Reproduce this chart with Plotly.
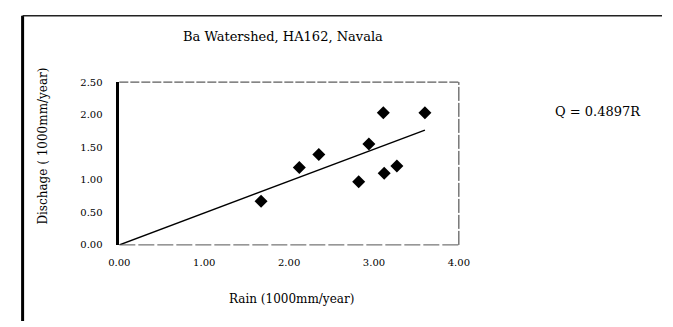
import plotly.graph_objects as go

# Data
rain = [1.67, 2.12, 2.35, 2.82, 2.94, 3.11, 3.12, 3.27, 3.60]
discharge = [0.67, 1.19, 1.39, 0.97, 1.55, 2.03, 1.10, 1.21, 2.03]
slope = 0.4897
x_ticks = [0, 1, 2, 3, 4]
y_ticks = [0, 0.5, 1.0, 1.5, 2.0, 2.5]

title_text = "Ba Watershed, HA162, Navala"
x_title = "Rain (1000mm/year)"
y_title = "Dischage ( 1000mm/year)"
eq_text = "Q = 0.4897R"

W, H = 673, 327
FONT = "DejaVu Serif, Liberation Serif, serif"

def px(x):
    return x / W

def py(y):
    return 1 - y / H

trend_x = [0, max(rain)]
trend_y = [slope * v for v in trend_x]

fig = go.Figure()
fig.add_trace(go.Scatter(x=trend_x, y=trend_y, mode="lines",
                         line=dict(color="black", width=1.5),
                         showlegend=False, hoverinfo="skip"))
fig.add_trace(go.Scatter(x=rain, y=discharge, mode="markers",
                         marker=dict(symbol="diamond", size=10, color="black"),
                         showlegend=False))

fig.update_layout(
    width=W, height=H,
    margin=dict(l=0, r=0, t=0, b=0),
    paper_bgcolor="white", plot_bgcolor="white",
    font=dict(family=FONT, color="black"),
    xaxis=dict(domain=[px(112), px(463)], range=[0, 4], tickvals=x_ticks,
               tickformat=".2f", showgrid=False, zeroline=False,
               showline=False, ticks="", tickfont=dict(size=10, family=FONT),
               ticklabelstandoff=10, fixedrange=True),
    yaxis=dict(domain=[py(248), py(79)], range=[0, 2.5], tickvals=y_ticks,
               tickformat=".2f", showgrid=False, zeroline=False,
               showline=True, linecolor="black", linewidth=2.5, ticks="",
               tickfont=dict(size=10, family=FONT),
               ticklabelstandoff=12, fixedrange=True),
)

shapes = []
# plot area dashed borders (top, right, bottom)
shapes.append(dict(type="line", xref="x domain", yref="y domain", x0=0, x1=1, y0=1, y1=1,
                   line=dict(color="#333", width=1, dash="9px,2px")))
shapes.append(dict(type="line", xref="x domain", yref="y domain", x0=1, x1=1, y0=0, y1=1,
                   line=dict(color="#333", width=1, dash="14px,2px")))
shapes.append(dict(type="line", xref="x domain", yref="y domain", x0=0, x1=1, y0=0, y1=0,
                   line=dict(color="#555", width=1, dash="16px,3px")))
# outer frame: thick left line and top line
shapes.append(dict(type="line", xref="paper", yref="paper", x0=px(12), x1=px(12), y0=0, y1=py(10),
                   line=dict(color="black", width=3)))
shapes.append(dict(type="line", xref="paper", yref="paper", x0=px(12), x1=1, y0=py(10), y1=py(10),
                   line=dict(color="#222", width=1.5)))
fig.update_layout(shapes=shapes)

ann = [
    dict(text=title_text, x=px(281), y=py(32), xref="paper", yref="paper",
         showarrow=False, font=dict(size=13, family=FONT), xanchor="center", yanchor="middle"),
    dict(text=x_title, x=px(290), y=py(304), xref="paper", yref="paper",
         showarrow=False, font=dict(size=12, family=FONT), xanchor="center", yanchor="middle"),
    dict(text=y_title, x=px(33), y=py(145), xref="paper", yref="paper", textangle=-90,
         showarrow=False, font=dict(size=12, family=FONT), xanchor="center", yanchor="middle"),
    dict(text=eq_text, x=px(607), y=py(110), xref="paper", yref="paper",
         showarrow=False, font=dict(size=13, family=FONT), xanchor="center", yanchor="middle"),
]
fig.update_layout(annotations=ann)

fig.write_html("out.html")
